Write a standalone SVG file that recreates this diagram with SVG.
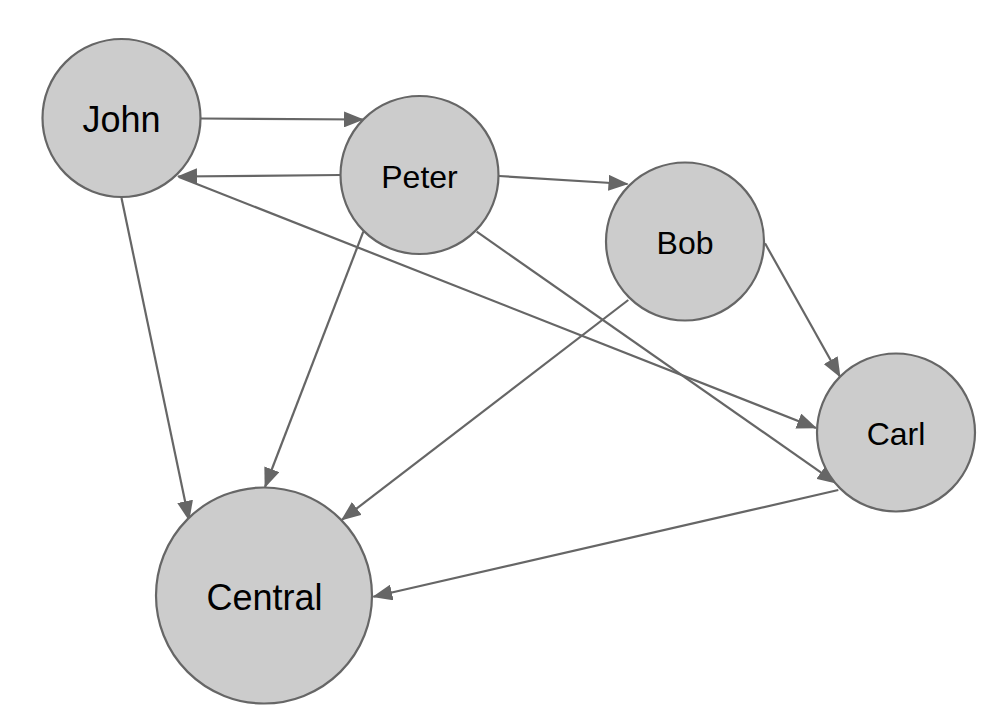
<svg xmlns="http://www.w3.org/2000/svg" width="990" height="724" viewBox="0 0 990 724">
<style>
.node circle{fill:#cccccc;stroke:#666666;stroke-width:2.2}
.node text{font-family:"Liberation Sans",Arial,sans-serif;fill:#000;text-anchor:middle}
.edges line{stroke:#666666;stroke-width:2.2;fill:none;marker-end:url(#arr)}
</style>
<defs>
<marker id="arr" markerWidth="20" markerHeight="16" refX="19" refY="8" orient="auto" markerUnits="userSpaceOnUse">
<path d="M0,0 L20,8 L0,16 z" fill="#666666"/>
</marker>
</defs>
<rect width="990" height="724" fill="#ffffff"/>
<g class="edges">
<line x1="201" y1="118.5" x2="363" y2="119.5"/>
<line x1="340" y1="175" x2="178" y2="176.5"/>
<line x1="179" y1="177" x2="816" y2="428"/>
<line x1="121.5" y1="198" x2="189" y2="520"/>
<line x1="363.3" y1="231.7" x2="265" y2="487"/>
<line x1="499" y1="176" x2="627.5" y2="184"/>
<line x1="476.7" y1="231.7" x2="836.5" y2="483.3"/>
<line x1="765" y1="243.3" x2="840" y2="376.7"/>
<line x1="628.3" y1="300" x2="341.7" y2="520"/>
<line x1="838.3" y1="490" x2="373.3" y2="596.7"/>
</g>
<g id="john" class="node"><circle cx="121.5" cy="118" r="79"/><text x="121.5" y="131.5" font-size="36">John</text></g>
<g id="peter" class="node"><circle cx="419.5" cy="175" r="79"/><text x="419.5" y="188.3" font-size="32">Peter</text></g>
<g id="bob" class="node"><circle cx="685" cy="241.5" r="79"/><text x="685" y="254.3" font-size="32">Bob</text></g>
<g id="carl" class="node"><circle cx="896" cy="432.5" r="79"/><text x="896" y="445" font-size="32">Carl</text></g>
<g id="central" class="node"><circle cx="264" cy="595.5" r="108"/><text x="264.5" y="610" font-size="36">Central</text></g>
</svg>
